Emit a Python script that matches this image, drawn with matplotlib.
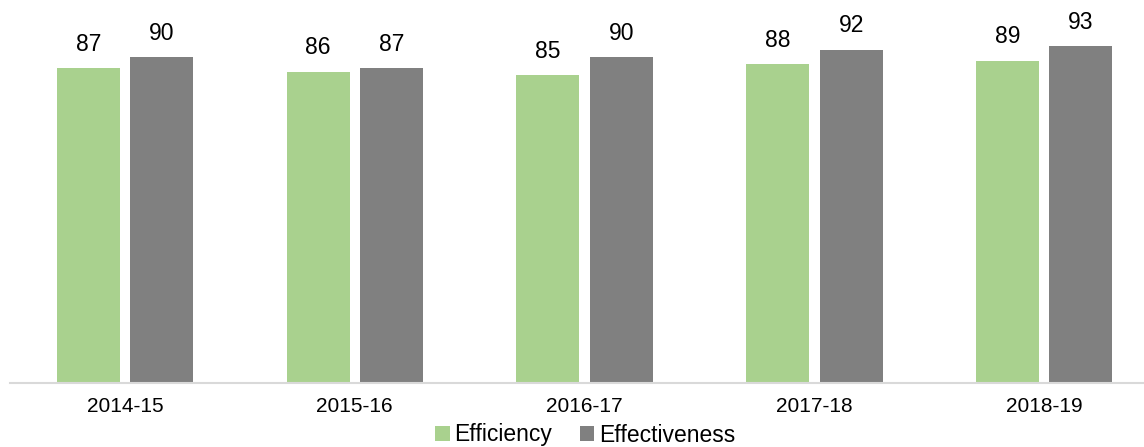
import matplotlib.pyplot as plt
import numpy as np

plt.rcParams['font.family'] = ['Liberation Sans', 'DejaVu Sans']

years = ['2014-15', '2015-16', '2016-17', '2017-18', '2018-19']
efficiency = [87, 86, 85, 88, 89]
effectiveness = [90, 87, 90, 92, 93]

fig = plt.figure(figsize=(11.44, 4.47), dpi=100)
ax = fig.add_axes([10 / 1144, 64 / 447, 1149 / 1144, 362 / 447])

x = np.arange(len(years))
w = 0.274
b1 = ax.bar(x - 0.159, efficiency, w, color='#A9D18E', label='Efficiency')
b2 = ax.bar(x + 0.16, effectiveness, w, color='#808080', label='Effectiveness')

ax.bar_label(b1, padding=9, fontsize=16.5, color='#000000')
ax.bar_label(b2, padding=9, fontsize=16.5, color='#000000')

ax.set_xlim(-0.5, len(years) - 0.5)
ax.set_ylim(0, 100)
ax.set_xticks(x)
ax.set_xticklabels(years, fontsize=15)
ax.tick_params(axis='x', length=0, pad=10)
ax.set_yticks([])
for s in ['top', 'right', 'left']:
    ax.spines[s].set_visible(False)
ax.spines['bottom'].set_color('#D9D9D9')
ax.spines['bottom'].set_linewidth(1.5)

# legend sits right at the bottom edge, as in the original
fig.legend(loc='center', bbox_to_anchor=(585 / 1144, 1 - 435 / 447), ncol=2,
           frameon=False, fontsize=16.5, handlelength=0.65, handleheight=0.65,
           handletextpad=0.2, columnspacing=1.2, borderpad=0)

fig.savefig('out.png', dpi=100)
